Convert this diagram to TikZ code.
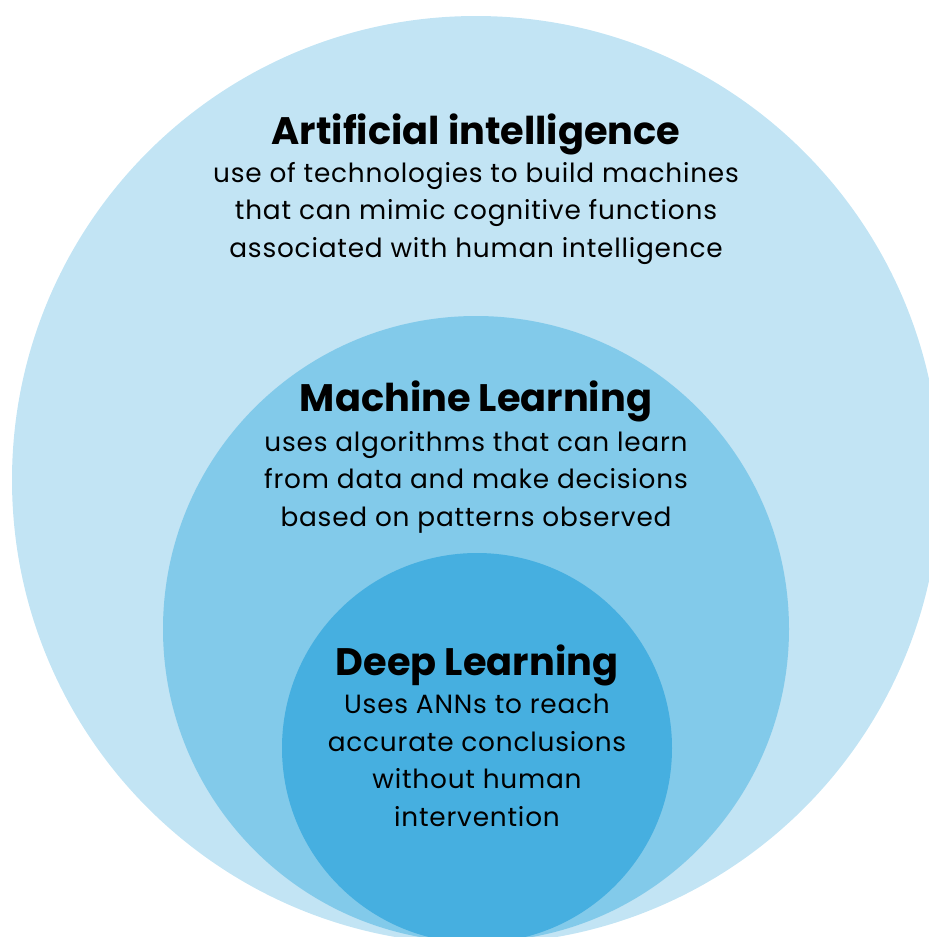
\documentclass[tikz,border=0pt]{standalone}
\usepackage{fontspec}
\setmainfont{Poppins}
\newfontfamily\bodyfont[LetterSpace=3]{Poppins}
\definecolor{aiblue}{HTML}{C2E4F4}
\definecolor{mlblue}{HTML}{82CAEA}
\definecolor{dlblue}{HTML}{46AFE0}
\begin{document}
\begin{tikzpicture}[x=0.02cm,y=-0.02cm,
	title/.style={font=\fontsize{21.8}{24}\selectfont\bfseries, anchor=base},
	body/.style={font=\bodyfont\fontsize{15}{21.3}\selectfont, align=center, anchor=base, inner sep=0pt}]
	\useasboundingbox (0,0) rectangle (929,937);
	\clip (0,0) rectangle (929,937);

	% nested circles
	\coordinate (aicenter) at (476,480);
	\coordinate (mlcenter) at (476,629);
	\coordinate (dlcenter) at (477,748);
	\fill[aiblue] (aicenter) circle[radius=464];
	\fill[mlblue] (mlcenter) circle[radius=313];
	\fill[dlblue] (dlcenter) circle[radius=195];

	% labels (body nodes sit on their last baseline)
	\node[title] (aititle) at (476,144) {Artificial intelligence};
	\node[body] (aitext) at (476,257) {use of technologies to build machines\\that can mimic cognitive functions\\associated with human intelligence};

	\node[title] (mltitle) at (476,411) {Machine Learning};
	\node[body] (mltext) at (476,526) {uses algorithms that can learn\\from data and make decisions\\based on patterns observed};

	\node[title] (dltitle) at (477,675) {Deep Learning};
	\node[body] (dltext) at (477,826) {Uses ANNs to reach\\accurate conclusions\\without human\\intervention};
\end{tikzpicture}
\end{document}
